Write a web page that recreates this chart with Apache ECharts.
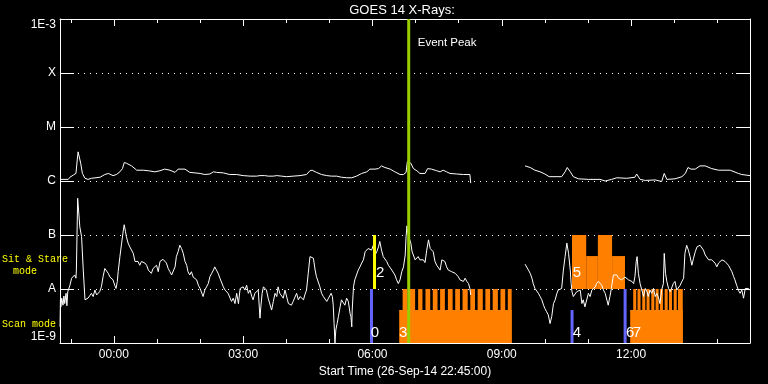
<!DOCTYPE html>
<html><head><meta charset="utf-8">
<script src="https://cdn.jsdelivr.net/npm/echarts@6/dist/echarts.min.js"></script>
<style>html,body{margin:0;padding:0;background:#000}#c{width:768px;height:384px}</style>
</head><body><div id="c"></div><script>
// Time: hours relative to 27-Sep-14 00:00 (plot starts 26-Sep-14 22:45). Flux values stored as log10(W/m^2).
const xMin = -1.25, xMax = 14.76;
const xTickHours = [0, 3, 6, 9, 12];
const xTickLabels = ['00:00', '03:00', '06:00', '09:00', '12:00'];
const xMinorHours = [-1,0,1,2,3,4,5,6,7,8,9,10,11,12,13,14];
const yTickLabels = ['1E-9', 'A', 'B', 'C', 'M', 'X', '1E-3'];

// GOES 14 long channel (1-8 A), [hour, log10 flux]
const longChannel = [
[-1.25,-5.97],[-1.06,-5.97],[-1.02,-5.93],[-0.94,-5.89],[-0.88,-5.86],[-0.85,-5.61],[-0.83,-5.46],[-0.80,-5.49],
[-0.77,-5.67],[-0.73,-5.86],[-0.67,-5.95],[-0.60,-5.97],[-0.52,-5.95],[-0.32,-5.93],[-0.21,-5.88],[-0.13,-5.86],
[-0.02,-5.90],[0.06,-5.88],[0.14,-5.83],[0.20,-5.77],[0.24,-5.66],[0.29,-5.67],[0.41,-5.72],[0.53,-5.80],
[0.68,-5.80],[0.80,-5.81],[0.95,-5.83],[1.07,-5.81],[1.18,-5.78],[1.30,-5.80],[1.42,-5.84],[1.49,-5.78],
[1.53,-5.75],[1.65,-5.78],[1.76,-5.84],[1.88,-5.85],[2.00,-5.86],[2.11,-5.88],[2.23,-5.87],[2.31,-5.83],
[2.38,-5.84],[2.54,-5.85],[2.69,-5.88],[2.85,-5.88],[3.00,-5.90],[3.16,-5.91],[3.31,-5.91],[3.39,-5.90],
[3.50,-5.90],[3.58,-5.91],[3.70,-5.91],[3.78,-5.90],[3.89,-5.91],[4.01,-5.92],[4.16,-5.91],[4.32,-5.90],
[4.47,-5.88],[4.55,-5.81],[4.60,-5.80],[4.70,-5.84],[4.82,-5.88],[4.94,-5.90],[5.05,-5.91],[5.17,-5.91],
[5.28,-5.93],[5.40,-5.94],[5.52,-5.94],[5.63,-5.91],[5.75,-5.86],[5.87,-5.83],[5.94,-5.78],[5.98,-5.75],
[6.06,-5.78],[6.14,-5.77],[6.21,-5.72],[6.29,-5.75],[6.41,-5.78],[6.52,-5.83],[6.64,-5.88],[6.72,-5.88],
[6.78,-5.84],[6.81,-5.64],[6.85,-5.64],[6.89,-5.67],[6.95,-5.77],[7.03,-5.81],[7.10,-5.86],[7.22,-5.86],
[7.28,-5.77],[7.37,-5.78],[7.49,-5.81],[7.57,-5.83],[7.64,-5.80],[7.72,-5.83],[7.80,-5.86],[7.95,-5.87],
[8.11,-5.88],[8.26,-5.88],[8.28,-6.04],[8.90,null],
[9.54,-5.72],[9.66,-5.75],[9.77,-5.80],[9.89,-5.83],[10.00,-5.87],[10.10,-5.92],[10.39,-5.92],[10.47,-5.83],
[10.52,-5.75],[10.59,-5.83],[10.66,-5.92],[10.78,-5.96],[11.01,-5.97],[11.28,-5.97],[11.40,-6.00],[11.55,-5.97],
[11.67,-5.94],[11.90,-5.95],[12.09,-5.93],[12.13,-5.87],[12.21,-5.97],[12.33,-5.99],[12.56,-5.98],[12.71,-6.01],
[12.77,-5.86],[12.83,-5.97],[13.02,-5.96],[13.18,-5.92],[13.26,-5.86],[13.32,-5.75],[13.39,-5.78],[13.49,-5.78],
[13.60,-5.72],[13.72,-5.72],[13.87,-5.77],[14.03,-5.80],[14.30,-5.80],[14.49,-5.86],[14.57,-5.88],[14.76,-5.90]
];

// GOES 14 short channel (0.5-4 A), [hour, log10 flux]
const shortChannel = [
[-1.25,-8.70],[-1.24,-8.20],[-1.23,-8.33],[-1.21,-8.17],[-1.18,-8.30],[-1.16,-8.13],[-1.14,-8.27],[-1.11,-8.08],
[-1.09,-8.31],[-1.07,-8.05],[-1.04,-8.02],[-1.02,-7.93],[-0.98,-7.80],[-0.94,-7.77],[-0.91,-7.74],[-0.88,-7.80],
[-0.87,-7.65],[-0.84,-6.32],[-0.82,-6.35],[-0.79,-6.85],[-0.75,-7.03],[-0.71,-7.65],[-0.67,-8.20],[-0.63,-8.23],
[-0.60,-8.17],[-0.56,-8.20],[-0.52,-8.08],[-0.48,-8.14],[-0.44,-8.02],[-0.40,-8.11],[-0.36,-8.14],[-0.33,-8.05],
[-0.29,-7.96],[-0.25,-7.77],[-0.21,-7.62],[-0.17,-7.59],[-0.13,-7.71],[-0.09,-7.78],[-0.05,-7.77],[-0.02,-7.83],
[0.02,-7.93],[0.05,-7.99],[0.08,-7.86],[0.10,-7.68],[0.14,-7.40],[0.18,-7.15],[0.22,-6.91],[0.24,-6.81],
[0.27,-6.94],[0.29,-7.03],[0.33,-7.15],[0.37,-7.22],[0.41,-7.25],[0.45,-7.34],[0.49,-7.49],[0.53,-7.52],
[0.56,-7.49],[0.60,-7.56],[0.64,-7.49],[0.68,-7.49],[0.72,-7.52],[0.76,-7.56],[0.80,-7.65],[0.84,-7.68],
[0.87,-7.71],[0.91,-7.62],[0.95,-7.65],[0.99,-7.56],[1.03,-7.68],[1.07,-7.49],[1.11,-7.46],[1.14,-7.45],
[1.18,-7.48],[1.22,-7.52],[1.26,-7.62],[1.30,-7.68],[1.34,-7.74],[1.38,-7.77],[1.42,-7.59],[1.45,-7.40],
[1.49,-7.31],[1.53,-7.19],[1.57,-7.25],[1.61,-7.34],[1.65,-7.49],[1.69,-7.56],[1.72,-7.68],[1.76,-7.74],
[1.80,-7.68],[1.84,-7.78],[1.88,-7.76],[1.92,-7.83],[1.96,-7.93],[2.00,-7.99],[2.03,-8.02],[2.07,-8.14],
[2.11,-8.02],[2.15,-7.96],[2.19,-7.90],[2.23,-7.77],[2.27,-7.71],[2.31,-7.65],[2.34,-7.59],[2.38,-7.65],
[2.42,-7.71],[2.46,-7.80],[2.50,-7.83],[2.54,-7.96],[2.58,-8.02],[2.61,-7.99],[2.65,-8.08],[2.69,-8.05],
[2.73,-8.23],[2.77,-8.17],[2.81,-8.27],[2.85,-8.08],[2.89,-8.27],[2.93,-7.99],[2.96,-8.02],[3.00,-7.96],
[3.04,-8.02],[3.08,-7.93],[3.12,-8.08],[3.16,-8.02],[3.20,-8.14],[3.23,-8.20],[3.27,-8.08],[3.31,-8.05],
[3.35,-8.02],[3.39,-8.54],[3.41,-8.33],[3.44,-8.08],[3.47,-7.96],[3.50,-7.99],[3.54,-8.02],[3.58,-8.17],
[3.62,-8.20],[3.66,-8.39],[3.70,-8.23],[3.74,-8.08],[3.78,-8.14],[3.81,-7.96],[3.85,-8.08],[3.89,-8.05],
[3.93,-8.17],[3.97,-8.02],[4.01,-7.99],[4.05,-8.27],[4.09,-8.27],[4.12,-8.30],[4.16,-8.23],[4.20,-8.20],
[4.24,-8.08],[4.28,-8.20],[4.32,-8.14],[4.36,-8.17],[4.40,-8.20],[4.43,-8.11],[4.47,-8.02],[4.51,-7.71],
[4.55,-7.40],[4.59,-7.37],[4.63,-7.43],[4.67,-7.65],[4.70,-7.77],[4.74,-7.80],[4.78,-7.96],[4.82,-8.08],
[4.86,-8.14],[4.90,-8.14],[4.94,-8.23],[4.98,-8.17],[5.01,-8.14],[5.04,-8.08],[5.07,-8.14],[5.09,-8.30],
[5.11,-8.64],[5.13,-9.00],[5.15,-8.76],[5.18,-8.64],[5.21,-8.51],[5.25,-8.33],[5.28,-8.20],[5.32,-8.17],
[5.36,-8.30],[5.40,-8.17],[5.44,-8.23],[5.48,-8.45],[5.50,-8.51],[5.52,-8.70],[5.53,-8.39],[5.56,-7.96],
[5.59,-7.83],[5.63,-7.80],[5.67,-7.65],[5.71,-7.59],[5.75,-7.52],[5.79,-7.46],[5.83,-7.31],[5.87,-7.28],
[5.90,-7.25],[5.94,-7.22],[5.98,-7.28],[6.02,-7.19],[6.06,-7.37],[6.10,-7.31],[6.14,-7.22],[6.17,-7.12],
[6.21,-7.28],[6.25,-7.40],[6.29,-7.43],[6.33,-7.49],[6.37,-7.56],[6.41,-7.59],[6.45,-7.65],[6.48,-7.68],
[6.52,-7.74],[6.56,-7.83],[6.60,-7.90],[6.64,-7.83],[6.68,-7.68],[6.72,-7.59],[6.76,-7.37],[6.78,-7.03],
[6.80,-6.83],[6.83,-7.00],[6.87,-7.03],[6.89,-7.15],[6.92,-7.31],[6.95,-7.34],[6.99,-7.46],[7.03,-7.43],
[7.06,-7.40],[7.10,-7.46],[7.14,-7.43],[7.18,-7.46],[7.22,-7.51],[7.26,-7.28],[7.30,-7.09],[7.34,-7.25],
[7.37,-7.28],[7.41,-7.31],[7.45,-7.49],[7.49,-7.56],[7.53,-7.59],[7.57,-7.65],[7.61,-7.46],[7.64,-7.43],
[7.68,-7.49],[7.72,-7.59],[7.76,-7.65],[7.80,-7.62],[7.84,-7.68],[7.88,-7.65],[7.92,-7.71],[7.95,-7.74],
[7.99,-7.77],[8.03,-7.83],[8.07,-7.80],[8.11,-7.86],[8.15,-7.80],[8.19,-7.86],[8.23,-7.90],[8.26,-7.99],
[8.28,-8.11],[8.90,null],
[9.54,-7.54],[9.62,-7.65],[9.66,-7.71],[9.70,-7.80],[9.73,-7.90],[9.77,-7.99],[9.81,-7.96],[9.85,-8.08],
[9.89,-8.14],[9.93,-8.20],[9.97,-8.30],[10.00,-8.36],[10.04,-8.42],[10.08,-8.48],[10.12,-8.64],[10.16,-8.51],
[10.20,-8.27],[10.24,-8.20],[10.28,-8.08],[10.31,-8.02],[10.35,-7.99],[10.39,-7.99],[10.43,-7.65],[10.47,-7.40],
[10.51,-7.15],[10.53,-7.12],[10.55,-7.34],[10.59,-7.65],[10.61,-7.90],[10.63,-8.05],[10.66,-8.14],[10.70,-8.14],
[10.74,-8.05],[10.78,-8.05],[10.82,-8.02],[10.86,-8.27],[10.89,-8.20],[10.93,-8.33],[10.97,-8.30],[11.01,-8.08],
[11.05,-8.14],[11.09,-8.02],[11.13,-7.99],[11.17,-7.96],[11.20,-7.90],[11.24,-7.86],[11.28,-7.83],[11.32,-7.93],
[11.36,-8.02],[11.40,-8.08],[11.44,-8.11],[11.47,-8.30],[11.51,-8.14],[11.55,-7.96],[11.59,-7.74],[11.63,-7.77],
[11.67,-7.74],[11.71,-7.80],[11.75,-7.77],[11.78,-7.83],[11.82,-7.80],[11.86,-7.78],[11.90,-7.77],[11.94,-7.83],
[11.98,-7.80],[12.02,-7.86],[12.06,-7.90],[12.09,-7.77],[12.12,-7.49],[12.14,-7.40],[12.17,-7.71],[12.21,-7.90],
[12.25,-8.02],[12.29,-8.14],[12.33,-7.99],[12.37,-8.05],[12.40,-8.14],[12.44,-8.02],[12.48,-8.08],[12.52,-7.99],
[12.56,-8.14],[12.60,-8.08],[12.64,-8.17],[12.67,-8.27],[12.71,-8.02],[12.75,-7.90],[12.77,-7.34],[12.80,-7.71],
[12.83,-7.86],[12.87,-7.99],[12.91,-8.05],[12.94,-8.02],[12.98,-7.90],[13.02,-7.86],[13.06,-8.02],[13.10,-7.99],
[13.14,-7.93],[13.18,-7.86],[13.22,-7.80],[13.25,-7.34],[13.29,-7.19],[13.33,-7.28],[13.37,-7.40],[13.41,-7.56],
[13.45,-7.43],[13.49,-7.31],[13.53,-7.22],[13.56,-7.19],[13.60,-7.19],[13.64,-7.22],[13.68,-7.28],[13.72,-7.37],
[13.76,-7.40],[13.80,-7.46],[13.84,-7.43],[13.87,-7.46],[13.91,-7.49],[13.95,-7.52],[13.99,-7.59],[14.03,-7.52],
[14.07,-7.49],[14.11,-7.46],[14.14,-7.46],[14.18,-7.49],[14.22,-7.52],[14.26,-7.56],[14.30,-7.59],[14.34,-7.68],
[14.38,-7.77],[14.41,-7.83],[14.45,-7.93],[14.49,-8.02],[14.53,-8.08],[14.57,-8.02],[14.61,-8.17],[14.65,-7.99],
[14.69,-8.02],[14.72,-7.99],[14.76,-8.02]
];

// Observation mode blocks: [startHour, endHour, bottomLog, topLog]
const scanBase = [[6.62, 9.23, -9, -8.39], [11.98, 13.20, -9, -8.39]];
const scanRasters = [
[6.70,6.81,-9,-8],[6.87,6.99,-9,-8],[7.06,7.16,-9,-8],[7.23,7.34,-9,-8],[7.40,7.51,-9,-8],[7.57,7.68,-9,-8],
[7.75,7.86,-9,-8],[7.92,8.03,-9,-8],[8.09,8.21,-9,-8],[8.27,8.38,-9,-8],[8.44,8.56,-9,-8],[8.62,8.73,-9,-8],
[8.79,8.91,-9,-8],[8.97,9.08,-9,-8],[9.14,9.23,-9,-8],
[12.05,12.12,-9,-8],[12.15,12.22,-9,-8],[12.26,12.33,-9,-8],[12.36,12.43,-9,-8],[12.47,12.54,-9,-8],[12.57,12.64,-9,-8],
[12.67,12.74,-9,-8],[12.78,12.85,-9,-8],[12.88,12.95,-9,-8],[12.99,13.06,-9,-8],[13.09,13.20,-9,-8]
];
const sitStare = [[10.63,10.96,-8,-7],[10.96,11.23,-8,-7.39],[11.23,11.56,-8,-7],[11.56,11.86,-8,-7.39]];

// Event markers: [hour, fromLog, toLog]
const eventLines = [[5.977,-9,-8],[6.047,-8,-7],[6.841,-9,-3],[10.631,-9,-8.39],[11.862,-9,-8]];
const eventColors = ['#6464ff','#ffff00','#9acd00','#6464ff','#6464ff'];
// Event number labels: [hour, log level]
const eventLabelPos = [[5.96,-8.815],[6.08,-7.694],[6.615,-8.815],[10.647,-8.815],[10.647,-7.694],[11.885,-8.815],[12.04,-8.815]];
const eventLabelText = ['0','2','3','4','5','6','7'];
const peakLabel = 'Event Peak';

const FONT = '"Liberation Sans", Arial, sans-serif';
const chart = echarts.init(document.getElementById('c'), null, {renderer:'canvas'});

function rectRender(params, api) {
  const p0 = api.coord([api.value(0), api.value(2)]);
  const p1 = api.coord([api.value(1), api.value(3)]);
  return {type:'rect', shape:{x:p0[0], y:p1[1], width:p1[0]-p0[0], height:p0[1]-p1[1]},
    style:{fill:'#ff8000'}};
}
function rectSeries(data) {
  return {type:'custom', renderItem:rectRender, data:data, z:1, silent:true, animation:false,
    encode:{x:[0,1], y:[2,3]}};
}
const xBase = {type:'value', min:xMin, max:xMax, gridIndex:0, splitLine:{show:false}};
const yBase = {type:'value', min:-9, max:-3, interval:1};
const lineW = {color:'#fff', width:1};

chart.setOption({
  backgroundColor:'#000',
  animation:false,
  grid:{left:60, right:18, top:19, bottom:41},
  graphic:[
    {type:'text', x:402, y:10, style:{text:'GOES 14 X-Rays:', fill:'#fff', font:'13px '+FONT, textAlign:'center', textVerticalAlign:'middle'}},
    {type:'text', x:2, y:259, style:{text:'Sit & Stare', fill:'#ffff00', font:'10px "Liberation Mono", monospace', textVerticalAlign:'middle'}},
    {type:'text', x:13, y:271, style:{text:'mode', fill:'#ffff00', font:'10px "Liberation Mono", monospace', textVerticalAlign:'middle'}},
    {type:'text', x:2, y:324, style:{text:'Scan mode', fill:'#ffff00', font:'10px "Liberation Mono", monospace', textVerticalAlign:'middle'}}
  ],
  xAxis:[
    Object.assign({}, xBase, {position:'bottom',
      axisLine:{show:true, onZero:false, lineStyle:lineW},
      axisTick:{show:true, inside:true, length:4, customValues:xMinorHours, lineStyle:{color:'#fff'}},
      axisLabel:{show:true, customValues:xTickHours, color:'#fff', fontSize:12, fontFamily:FONT, margin:6,
        formatter:function(v){ return xTickLabels[xTickHours.indexOf(v)]; }},
      name:'Start Time (26-Sep-14 22:45:00)', nameLocation:'middle', nameGap:20,
      nameTextStyle:{color:'#fff', fontSize:12, fontFamily:FONT}}),
    Object.assign({}, xBase, {position:'bottom', axisLine:{show:false, onZero:false},
      axisTick:{show:true, inside:true, length:7, customValues:xTickHours, lineStyle:{color:'#fff'}},
      axisLabel:{show:false}}),
    Object.assign({}, xBase, {position:'top',
      axisLine:{show:true, onZero:false, lineStyle:lineW},
      axisTick:{show:true, inside:true, length:4, customValues:xMinorHours, lineStyle:{color:'#fff'}},
      axisLabel:{show:false}}),
    Object.assign({}, xBase, {position:'top', axisLine:{show:false, onZero:false},
      axisTick:{show:true, inside:true, length:7, customValues:xTickHours, lineStyle:{color:'#fff'}},
      axisLabel:{show:false}})
  ],
  yAxis:[
    Object.assign({}, yBase, {position:'left',
      axisLine:{show:true, onZero:false, lineStyle:lineW},
      axisTick:{show:true, inside:true, length:14, lineStyle:{color:'#fff'}},
      axisLabel:{show:true, color:'#fff', fontSize:12, fontFamily:FONT, margin:4,
        verticalAlignMinLabel:'bottom', verticalAlignMaxLabel:'top',
        formatter:function(v){ return yTickLabels[Math.round(v + 9)]; }},
      splitLine:{show:true, showMinLine:false, showMaxLine:false, lineStyle:{color:'#fff', width:1, type:[1,5]}}}),
    Object.assign({}, yBase, {position:'right',
      axisLine:{show:true, onZero:false, lineStyle:lineW},
      axisTick:{show:true, inside:true, length:14, lineStyle:{color:'#fff'}},
      axisLabel:{show:false}, splitLine:{show:false}})
  ],
  series:[
    rectSeries(scanBase),
    rectSeries(scanRasters),
    rectSeries(sitStare),
    {type:'line', data:longChannel, showSymbol:false, connectNulls:false, z:3, silent:true,
      lineStyle:{color:'#fff', width:1}},
    {type:'line', data:shortChannel, showSymbol:false, connectNulls:false, z:3, silent:true,
      lineStyle:{color:'#fff', width:1}},
    {type:'custom', data:eventLines, z:5, silent:true, encode:{x:0, y:[1,2]},
      renderItem:function(params, api){
        const a = api.coord([api.value(0), api.value(1)]);
        const b = api.coord([api.value(0), api.value(2)]);
        const children = [{type:'line', shape:{x1:a[0], y1:a[1], x2:b[0], y2:b[1]},
          style:{stroke:eventColors[params.dataIndex], lineWidth:3}}];
        if (params.dataIndex === 2) {
          children.push({type:'text', x:b[0] + 9, y:b[1] + 24,
            style:{text:peakLabel, fill:'#fff', font:'11.5px '+FONT, textVerticalAlign:'middle'}});
        }
        return {type:'group', children:children};
      }},
    {type:'custom', data:eventLabelPos, z:6, silent:true, encode:{x:0, y:1},
      renderItem:function(params, api){
        const p = api.coord([api.value(0), api.value(1)]);
        return {type:'text', x:p[0], y:p[1],
          style:{text:eventLabelText[params.dataIndex], fill:'#fff', font:'15px '+FONT, textVerticalAlign:'middle'}};
      }}
  ]
});
</script></body></html>
